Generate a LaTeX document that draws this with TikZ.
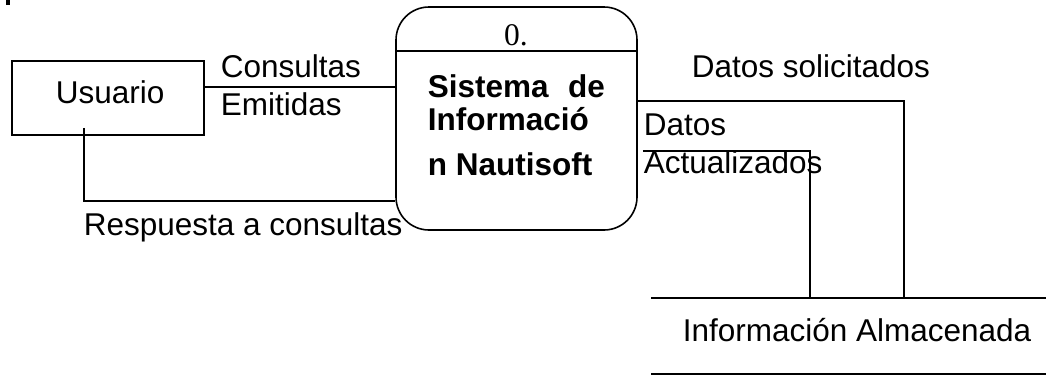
\documentclass[tikz,border=0pt]{standalone}
\usepackage{fontspec}
\setmainfont{Liberation Sans}
\newfontfamily\numfont{Liberation Serif}
\begin{document}
\begin{tikzpicture}[x=1pt,y=-1pt,line width=1.6pt,
  font=\fontsize{31.5}{36}\selectfont,
  entity/.style={draw,minimum width=192pt,minimum height=74pt,inner sep=0pt},
  process/.style={draw,rounded corners=33pt,minimum width=241pt,minimum height=223pt,inner sep=0pt},
  store/.style={minimum width=394pt,minimum height=74pt,inner sep=0pt},
  lbl/.style={anchor=base west,inner sep=0pt}]
  \useasboundingbox (0,0) rectangle (1046,375);
  \fill (6,0) rectangle (10,5);

  % external entity, process and data store
  \node[entity] (usr) at (108,98) {};
  \node[lbl] (usrlbl) at (55,103) {Usuario};
  \node[process] (proc) at (516.5,118.5) {};
  \draw (proc.west |- 0,51) -- (proc.east |- 0,51);
  \node[anchor=base,inner sep=0pt] (procnum) at (516,45) {\numfont 0.};
  \node[lbl,font=\fontsize{31.5}{36}\selectfont\bfseries] (sys1) at (427,97) {\makebox[177pt][s]{Sistema de}};
  \node[lbl,font=\fontsize{31.5}{36}\selectfont\bfseries] (sys2) at (427,130) {Informació};
  \node[lbl,font=\fontsize{31.5}{36}\selectfont\bfseries] (sys3) at (427,175) {n Nautisoft};
  \node[store] (store) at (849,336) {};
  \draw (store.north west) -- (store.north east);
  \draw (store.south west) -- (store.south east);
  \node[lbl] (storelbl) at (682,341) {Información Almacenada};

  % flows
  \draw (usr.east |- 0,87) -- (proc.west |- 0,87);
  \draw ([xshift=-24pt,yshift=8pt]usr.south) |- (proc.west |- 0,201);
  \draw (proc.east |- 0,101) -| (store.north -| 904,0);
  \draw ([xshift=5pt]proc.east |- 0,151) -| (store.north -| 810,0);
  \node[lbl] (f1a) at (220,77) {Consultas};\node[lbl] (f1b) at (220,115) {Emitidas};
  \node[lbl] (f2) at (83,235) {Respuesta a consultas};
  \node[lbl] (f3) at (691,77) {Datos solicitados};
  \node[lbl] (f4a) at (643,135) {Datos};\node[lbl] (f4b) at (643,173) {Actualizados};
\end{tikzpicture}
\end{document}
